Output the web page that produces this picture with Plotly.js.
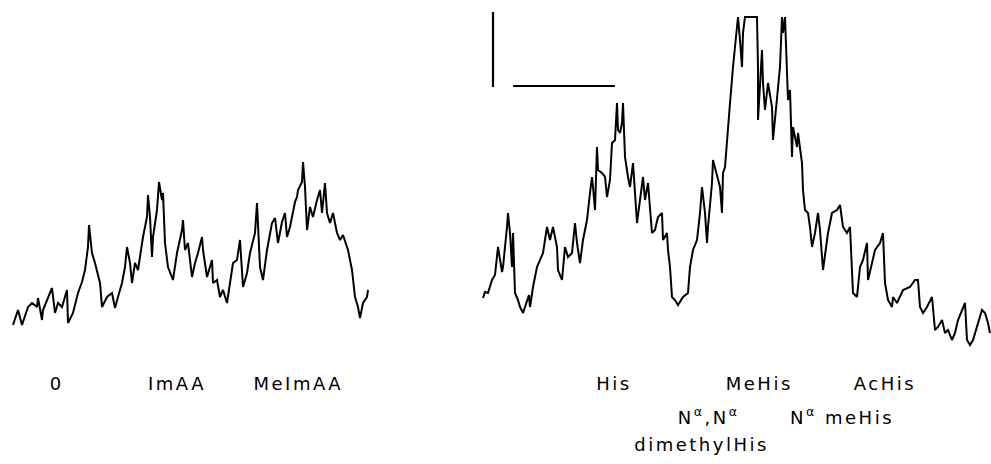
<!DOCTYPE html>
<html>
<head>
<meta charset="utf-8">
<script src="https://cdn.plot.ly/plotly-3.0.1.min.js"></script>
<style>
html,body{margin:0;padding:0;background:#fff;}
#chart{width:991px;height:464px;}
</style>
</head>
<body>
<div id="chart"></div>
<script>
// Left chromatogram (time position, detector deflection; axis drawn downward like the scan)
var leftX = [13,18,22,28,32,37,38,42,43,50,52,55,58,62,65,67,68,73,78,82,85,88,89,92,95,98,100,102,107,112,115,118,122,125,127,130,132,135,138,143,147,148,150,152,153,157,159,162,163,165,168,173,177,182,183,185,188,192,195,198,202,203,207,212,213,217,220,223,227,230,233,237,240,243,247,250,255,257,258,260,263,267,272,275,278,282,285,287,290,293,295,297,298,302,303,305,307,310,313,317,320,322,325,327,330,333,337,340,343,348,352,355,358,360,363,367,368];
var leftY = [325,310,325,307,303,307,298,320,310,293,288,313,303,307,297,290,323,313,293,282,270,247,225,253,263,277,283,307,297,293,308,297,283,267,247,263,283,263,270,237,217,195,217,257,237,210,182,200,193,243,267,280,253,230,220,250,243,277,263,253,237,250,277,260,283,280,297,290,303,283,263,260,240,287,273,253,233,203,227,267,280,250,223,218,243,222,213,237,227,213,202,197,190,182,162,187,230,207,217,200,190,213,183,213,223,213,233,240,235,250,270,297,307,318,303,297,290];

// Right chromatogram
var rightX = [483,485,488,492,495,498,502,503,507,508,510,512,513,515,518,520,523,527,529,530,533,537,540,543,547,550,553,557,558,562,565,568,572,575,577,580,583,587,590,592,593,595,597,598,602,605,607,610,612,615,617,618,620,622,623,625,628,630,633,637,640,643,645,648,652,655,658,662,663,667,668,670,672,675,678,683,688,690,693,697,700,702,705,707,708,712,713,717,720,722,723,725,728,730,733,737,738,740,742,743,745,757,758,758,762,763,765,768,772,773,777,780,782,783,785,787,788,790,792,793,797,798,800,802,803,805,808,810,812,815,818,820,823,825,828,832,837,840,843,847,850,853,857,860,863,867,868,872,875,880,883,885,888,892,893,897,900,903,910,915,918,920,923,927,932,935,938,942,945,948,952,955,958,963,965,967,970,973,977,982,985,988,990];
var rightY = [298,292,293,280,275,247,272,267,227,213,233,267,233,293,300,307,313,300,295,307,287,267,260,253,227,240,227,247,270,280,247,257,253,223,243,263,240,220,193,177,187,210,147,170,173,177,197,180,143,140,103,130,133,123,103,157,177,187,163,223,200,177,200,183,233,230,217,213,240,233,250,267,297,300,305,297,293,267,250,240,213,187,213,243,227,183,160,177,187,213,173,167,133,103,67,27,17,40,67,33,17,17,67,120,50,83,110,83,107,140,100,67,17,33,17,73,100,90,157,127,147,133,150,163,190,210,213,227,247,233,213,230,270,253,233,213,210,205,227,233,227,293,297,267,260,243,280,263,250,243,233,283,300,307,297,303,297,290,287,280,280,307,313,307,297,330,327,320,333,330,340,333,320,307,303,340,345,340,327,310,313,323,333];

// Scale bar (vertical and horizontal calibration strokes)
var scaleVX = [493,493];
var scaleVY = [12,87];
var scaleHX = [513,615];
var scaleHY = [86,86];

// Peak labels
var labelText = ["0","ImAA","MeImAA","His","MeHis","AcHis",
                 "N<sup>α</sup>,N<sup>α</sup>","N<sup>α</sup> meHis","dimethylHis"];
var labelX = [56,177,298,614,759,885,708,842,701];
var labelY = [383,383,383,383,383,383,416,416,444];

var lineStyle = {color:'#000', width:2};
var traces = [
  {x:leftX, y:leftY, mode:'lines', line:lineStyle, hoverinfo:'skip'},
  {x:rightX, y:rightY, mode:'lines', line:lineStyle, hoverinfo:'skip'},
  {x:scaleVX, y:scaleVY, mode:'lines', line:{color:'#000', width:2.2}, hoverinfo:'skip'},
  {x:scaleHX, y:scaleHY, mode:'lines', line:{color:'#000', width:2.2}, hoverinfo:'skip'}
];

var annotations = labelText.map(function(t,i){
  return {x:labelX[i], y:labelY[i], xref:'x', yref:'y', text:t, showarrow:false,
          xanchor:'center', yanchor:'middle',
          font:{family:'DejaVu Sans, sans-serif', size:18, color:'#000'}};
});

var layout = {
  width:991, height:464,
  margin:{l:0,r:0,t:0,b:0,pad:0},
  paper_bgcolor:'#fff', plot_bgcolor:'#fff',
  showlegend:false,
  xaxis:{range:[0,991], visible:false, fixedrange:true},
  yaxis:{range:[464,0], visible:false, fixedrange:true},
  annotations:annotations
};

Plotly.newPlot('chart', traces, layout, {staticPlot:true, displayModeBar:false}).then(function(){
  document.querySelectorAll('.annotation-text').forEach(function(t){
    t.style.letterSpacing = '2.5px';
  });
});
</script>
</body>
</html>
